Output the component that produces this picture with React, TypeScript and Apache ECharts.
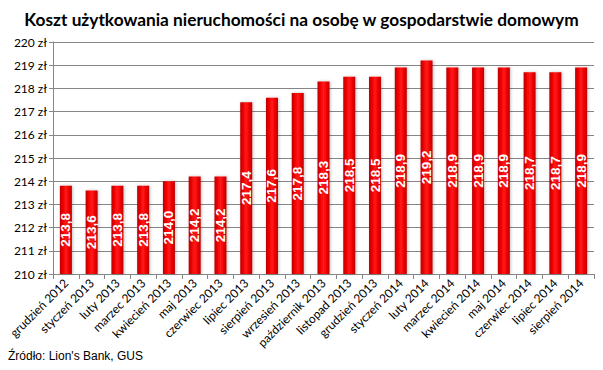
import React, { useEffect, useRef } from "react";
import * as echarts from "echarts";

const TITLE = "Koszt użytkowania nieruchomości na osobę w gospodarstwie domowym";
const SOURCE = "Źródło: Lion's Bank, GUS";

const categories: string[] = [
  "grudzień 2012", "styczeń 2013", "luty 2013", "marzec 2013", "kwiecień 2013",
  "maj 2013", "czerwiec 2013", "lipiec 2013", "sierpień 2013", "wrzesień 2013",
  "październik 2013", "listopad 2013", "grudzień 2013", "styczeń 2014", "luty 2014",
  "marzec 2014", "kwiecień 2014", "maj 2014", "czerwiec 2014", "lipiec 2014", "sierpień 2014",
];

const values: number[] = [
  213.8, 213.6, 213.8, 213.8, 214.0, 214.2, 214.2, 217.4, 217.6, 217.8,
  218.3, 218.5, 218.5, 218.9, 219.2, 218.9, 218.9, 218.9, 218.7, 218.7, 218.9,
];

const yMin = 210;
const yMax = 220;
const yStep = 1;
const currency = "zł";

export default function App() {
  const ref = useRef<HTMLDivElement>(null);
  useEffect(() => {
    if (!ref.current) return;
    const chart = echarts.init(ref.current, null, { renderer: "svg" });
    const uiFont = "Lato, 'Open Sans', sans-serif";
    chart.setOption({
      animation: false,
      backgroundColor: "#ffffff",
      title: {
        text: TITLE,
        left: "center",
        top: 6,
        textStyle: { fontSize: 17.3, fontWeight: "bold", color: "#000", fontFamily: uiFont },
      },
      graphic: [
        {
          type: "text",
          left: 8,
          top: 350,
          style: { text: SOURCE, fontSize: 12, fill: "#000", fontFamily: "'Liberation Sans', Arial, sans-serif" },
        },
      ],
      grid: { left: 53, right: 9, top: 42, bottom: 96, containLabel: false },
      xAxis: {
        type: "category",
        data: categories,
        boundaryGap: true,
        axisLine: { show: true, lineStyle: { color: "#868686", width: 1 } },
        axisTick: { show: true, alignWithLabel: false, length: 5, lineStyle: { color: "#868686" } },
        axisLabel: {
          rotate: 45,
          interval: 0,
          fontSize: 12,
          margin: 7,
          color: "#000",
          fontFamily: uiFont,
        },
      },
      yAxis: {
        type: "value",
        min: yMin,
        max: yMax,
        interval: yStep,
        axisLine: { show: true, lineStyle: { color: "#868686", width: 1 } },
        axisTick: { show: true, length: 4, lineStyle: { color: "#868686" } },
        splitLine: { show: true, lineStyle: { color: "#868686", width: 1 } },
        axisLabel: {
          formatter: (v: number) => `${v} ${currency}`,
          fontSize: 12,
          margin: 6,
          color: "#000",
          fontFamily: uiFont,
        },
      },
      series: [
        {
          type: "bar",
          data: values,
          barWidth: 12,
          itemStyle: {
            color: new echarts.graphic.LinearGradient(0, 0, 1, 0, [
              { offset: 0, color: "#b80000" },
              { offset: 0.25, color: "#f00000" },
              { offset: 0.5, color: "#ff1a1a" },
              { offset: 0.75, color: "#f00000" },
              { offset: 1, color: "#b80000" },
            ]),
            shadowColor: "rgba(0,0,0,0.25)",
            shadowBlur: 3,
            shadowOffsetX: 1,
          },
          label: {
            show: true,
            position: "inside",
            rotate: 90,
            formatter: (p: any) => Number(p.value).toFixed(1).replace(".", ","),
            color: "#ffffff",
            fontWeight: "bold",
            fontSize: 13.5,
            fontFamily: "'Liberation Sans', Arial, sans-serif",
          },
        },
      ],
    });
    return () => chart.dispose();
  }, []);
  return (
    <div
      ref={ref}
      style={{ position: "fixed", left: 0, top: 0, width: 603, height: 370, background: "#fff" }}
    />
  );
}
